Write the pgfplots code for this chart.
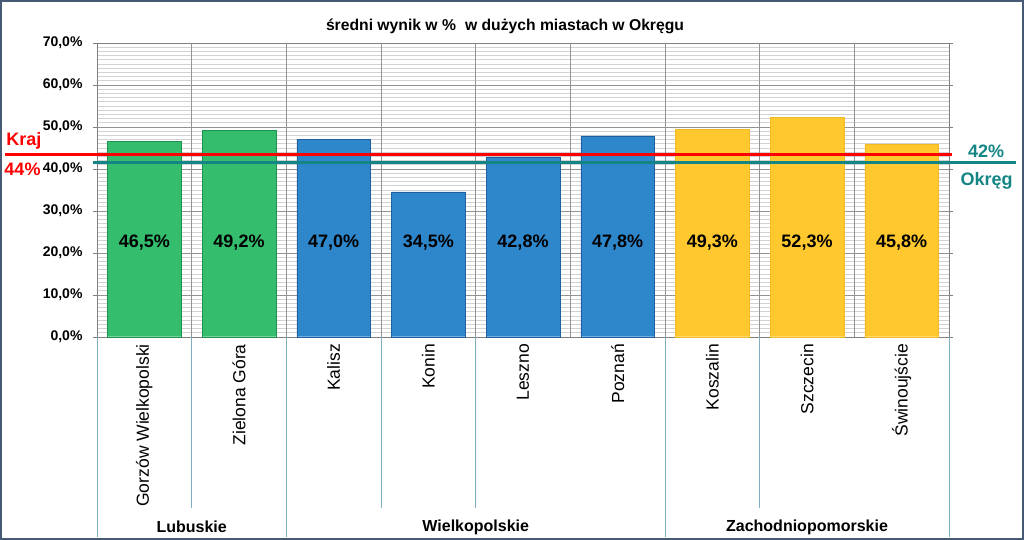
\documentclass[border=0pt]{standalone}
\usepackage{fontspec}
\setmainfont{Liberation Sans}
\usepackage{pgfplots}
\pgfplotsset{compat=1.18}
\definecolor{grn}{HTML}{33BD6D}
\definecolor{grnd}{HTML}{1E9050}
\definecolor{blu}{HTML}{2E86CB}
\definecolor{blud}{HTML}{1F5FA0}
\definecolor{yel}{HTML}{FFC82E}
\definecolor{yeld}{HTML}{F2BA22}
\definecolor{tealc}{HTML}{148585}
\definecolor{sepc}{HTML}{7FB0C0}
\definecolor{framec}{HTML}{475A75}
\begin{document}
\begin{tikzpicture}[x=1pt,y=1pt]
\useasboundingbox (0,0) rectangle (1024,-540);
\fill[white] (0,0) rectangle (1024,-540);
\begin{axis}[
  scale only axis, width=852pt, height=294pt,
  at={(97pt,-336.7pt)}, anchor=south west,
  xmin=-0.5, xmax=8.5, ymin=0, ymax=70,
  clip=false,
  axis line style={gray},
  ytick={0,10,...,70},
  yticklabels={{0,0\%},{10,0\%},{20,0\%},{30,0\%},{40,0\%},{50,0\%},{60,0\%},{70,0\%}},
  yticklabel style={font=\bfseries\fontsize{14}{16}\selectfont, xshift=-7pt},
  minor y tick num=9,
  ymajorgrids, yminorgrids,
  major grid style={gray!85},
  minor grid style={gray!35},
  tick align=outside,
  major tick length=4pt, minor tick length=0pt,
  ytick style={gray},
  xtick={0,...,8},
  xtick style={draw=none},
  xticklabels={Gorzów Wielkopolski,Zielona Góra,Kalisz,Konin,Leszno,Poznań,Koszalin,Szczecin,Świnoujście},
  xticklabel style={rotate=90, anchor=east, font=\fontsize{17.5}{20}\selectfont},
  extra x ticks={0.5,1.5,...,7.5},
  extra x tick labels={},
  extra x tick style={grid=major, major grid style={gray!85}},
]
\addplot[ybar, bar width=73.5pt, bar shift=0pt, fill=grn, draw=grnd] coordinates {(0,46.5) (1,49.2)};
\addplot[ybar, bar width=73.5pt, bar shift=0pt, fill=blu, draw=blud] coordinates {(2,47.0) (3,34.5) (4,42.8) (5,47.8)};
\addplot[ybar, bar width=73.5pt, bar shift=0pt, fill=yel, draw=yeld] coordinates {(6,49.3) (7,52.3) (8,45.8)};
\addplot[tealc, line width=3pt, mark=none, forget plot] coordinates {(-0.545,41.4) (9.21,41.4)};
\addplot[red, line width=3pt, mark=none, forget plot] coordinates {(-1.47,43.4) (8.53,43.4)};
\addplot[draw=none, mark=none, forget plot, nodes near coords, point meta=explicit symbolic,
  every node near coord/.style={anchor=center, font=\bfseries\fontsize{18}{20}\selectfont, text=black}]
  coordinates {(0,22.5) [{46,5\%}] (1,22.5) [{49,2\%}] (2,22.5) [{47,0\%}] (3,22.5) [{34,5\%}] (4,22.5) [{42,8\%}] (5,22.5) [{47,8\%}] (6,22.5) [{49,3\%}] (7,22.5) [{52,3\%}] (8,22.5) [{45,8\%}]};
\end{axis}
% separators below the axis
\foreach \k in {1,3,4,6,7}{\draw[sepc, line width=1pt] ({97+94.667*\k},-336.7) -- ({97+94.667*\k},-508);}
\foreach \k in {0,2,6,9}{\draw[sepc, line width=1pt] ({97+94.667*\k},-336.7) -- ({97+94.667*\k},-537);}
% group labels
\begin{scope}[every node/.style={font=\bfseries\fontsize{16}{18}\selectfont}]
\node at (191.7,-527) {Lubuskie};
\node at (475.7,-527) {Wielkopolskie};
\node at (807,-527) {Zachodniopomorskie};
\end{scope}
% title
\node[font=\bfseries\fontsize{15.7}{18}\selectfont] at (505,-26.5) {średni wynik w \%\hspace{9pt}w dużych miastach w Okręgu};
% line labels
\node[red, font=\bfseries\fontsize{18}{20}\selectfont] at (24,-141) {Kraj};
\node[red, font=\bfseries\fontsize{18}{20}\selectfont] at (22.5,-169) {44\%};
\node[tealc, font=\bfseries\fontsize{18}{20}\selectfont] at (986,-151.5) {42\%};
\node[tealc, font=\bfseries\fontsize{18}{20}\selectfont] at (986.5,-181) {Okręg};
\draw[framec, line width=2pt] (1,-1) rectangle (1023,-539);
\end{tikzpicture}
\end{document}
